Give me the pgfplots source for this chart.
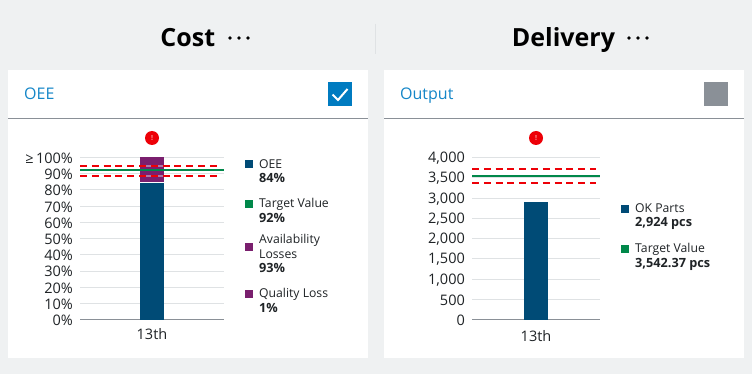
\documentclass[border=0pt]{standalone}
\usepackage{pgfplots}
\pgfplotsset{compat=1.18}
\usepackage{fontspec}
\setmainfont{Open Sans}
\definecolor{bg}{HTML}{EFF1F2}
\definecolor{gridc}{HTML}{DFE2E4}
\definecolor{hdr}{HTML}{8A9097}
\definecolor{oee}{HTML}{004B76}
\definecolor{tgt}{HTML}{00884A}
\definecolor{loss}{HTML}{7A1F6E}
\definecolor{linkb}{HTML}{1486C8}
\definecolor{chk}{HTML}{007BC0}
\definecolor{alert}{HTML}{ED0007}
\definecolor{txt}{HTML}{1F2326}
\newcommand\lb[1]{{\fontsize{12.7}{14.7}\selectfont\textbf{#1}}}
\pgfplotsset{
 base/.style={scale only axis,xmin=-3,xmax=3,ymin=0,clip=false,
   /pgf/number format/assume math mode=true,
   tick style={draw=none},
   tick label style={font=\fontsize{14.5}{16}\selectfont,text=txt},
   yticklabel style={anchor=east,xshift=-1.5pt,yshift=-0.8pt},
   xticklabel style={yshift=-3pt},
 },
 over/.style={base,hide axis},
}
\newcommand\legitem[5]{%
  \fill[#2] (#1,#3-4) rectangle (#1+8,#3+4);
  \node[anchor=north west,inner sep=0pt,align=left,text=txt,font=\fontsize{12.2}{14.7}\selectfont] at (#1+14,#4-6) {#5};
}
\begin{document}
\begin{tikzpicture}[x=1pt,y=-1pt]
\fill[bg] (0,0) rectangle (752,374);
\fill[white] (8,70) rectangle (368,358);
\fill[white] (384,70) rectangle (744,358);
\draw[hdr,line width=0.8pt] (8,118) -- (368,118);
\draw[hdr,line width=0.8pt] (384,118) -- (744,118);
\draw[gridc,line width=0.8pt] (375.5,24) -- (375.5,54);
\node[font=\bfseries\fontsize{25}{28}\selectfont,text=black,anchor=base] at (187.8,47) {Cost};
\node[font=\bfseries\fontsize{25}{28}\selectfont,text=black,anchor=base] at (563.5,47) {Delivery};
\foreach \x in {230,239,248,629,638,647}{\fill[black] (\x,38) circle (1.8);}
\node[anchor=base west,inner sep=0pt,text=linkb,font=\fontsize{16}{16}\selectfont] at (24,100) {OEE};
\node[anchor=base west,inner sep=0pt,text=linkb,font=\fontsize{16}{16}\selectfont] at (400,100) {Output};
\fill[chk] (328,82) rectangle (352,106);
\draw[white,line width=2pt] (332.5,94.5) -- (338,100) -- (347.5,89);
\fill[hdr] (704,82) rectangle (728,106);
% left chart
\begin{axis}[base,at={(80pt,-319.5pt)},anchor=south west,width=144pt,height=162pt,ymax=100,
  axis x line=bottom,axis y line=left,y axis line style={draw=none},
  x axis line style={draw=hdr,line width=0.6pt,-},
  ybar stacked,bar width=24pt,
  ytick={0,10,...,100},yticklabels={0\%,10\%,20\%,30\%,40\%,50\%,60\%,70\%,80\%,90\%,{≥\,100\%}},
  ymajorgrids,grid style={gridc,line width=0.8pt},
  xtick={0},xticklabels={13th}]
\addplot[fill=oee,draw=none] coordinates {(0,84)};
\addplot[fill=loss,draw=none] coordinates {(0,15)};
\addplot[fill=loss,draw=none] coordinates {(0,1)};
\end{axis}
\begin{axis}[over,at={(80pt,-319.5pt)},anchor=south west,width=144pt,height=162pt,ymax=100]
\addplot[white,line width=1pt] coordinates {(-0.5,84.3)(0.5,84.3)};
\addplot[white,opacity=0.4,line width=2pt] coordinates {(-3,94.6)(3,94.6)};
\addplot[white,opacity=0.4,line width=2pt] coordinates {(-3,88.3)(3,88.3)};
\addplot[tgt,line width=2pt] coordinates {(-3,92)(3,92)};
\addplot[alert,line width=2pt,dash pattern=on 7pt off 4.8pt] coordinates {(-3,94.6)(2.75,94.6)};
\addplot[alert,line width=2pt,dash pattern=on 7pt off 4.8pt] coordinates {(-3,88.3)(2.75,88.3)};
\end{axis}
% right chart
\begin{axis}[base,at={(472pt,-319.5pt)},anchor=south west,width=128pt,height=162pt,ymax=4000,
  axis x line=bottom,axis y line=left,y axis line style={draw=none},
  x axis line style={draw=hdr,line width=0.6pt,-},
  ybar,bar width=24pt,
  ytick={0,500,...,4000},yticklabels={0,500,{1,000},{1,500},{2,000},{2,500},{3,000},{3,500},{4,000}},
  ymajorgrids,grid style={gridc,line width=0.8pt},
  xtick={0},xticklabels={13th}]
\addplot[fill=oee,draw=none,bar shift=0pt] coordinates {(0,2890)};
\end{axis}
\begin{axis}[over,at={(472pt,-319.5pt)},anchor=south west,width=128pt,height=162pt,ymax=4000]
\addplot[tgt,line width=2pt] coordinates {(-3,3542.37)(3,3542.37)};
\addplot[alert,line width=2pt,dash pattern=on 7pt off 4.8pt] coordinates {(-3,3720)(2.8,3720)};
\addplot[alert,line width=2pt,dash pattern=on 7pt off 4.8pt] coordinates {(-3,3375)(2.8,3375)};
\end{axis}
% alerts
\foreach \x in {152,536}{
 \fill[alert] (\x,138) circle (7);
 \node[text=white,opacity=0.6,font=\bfseries\fontsize{7}{8}\selectfont,inner sep=0pt] at (\x,138) {!};
}
% legends
\legitem{245}{oee}{164}{165}{OEE\\\lb{84\%}}
\legitem{245}{tgt}{204}{204}{Target Value\\\lb{92\%}}
\legitem{245}{loss}{247}{240}{Availability\\Losses\\\lb{93\%}}
\legitem{245}{loss}{294}{294}{Quality Loss\\\lb{1\%}}
\legitem{621}{oee}{209}{209}{OK Parts\\\lb{2,924 pcs}}
\legitem{621}{tgt}{249}{249}{Target Value\\\lb{3,542.37 pcs}}
\end{tikzpicture}
\end{document}
